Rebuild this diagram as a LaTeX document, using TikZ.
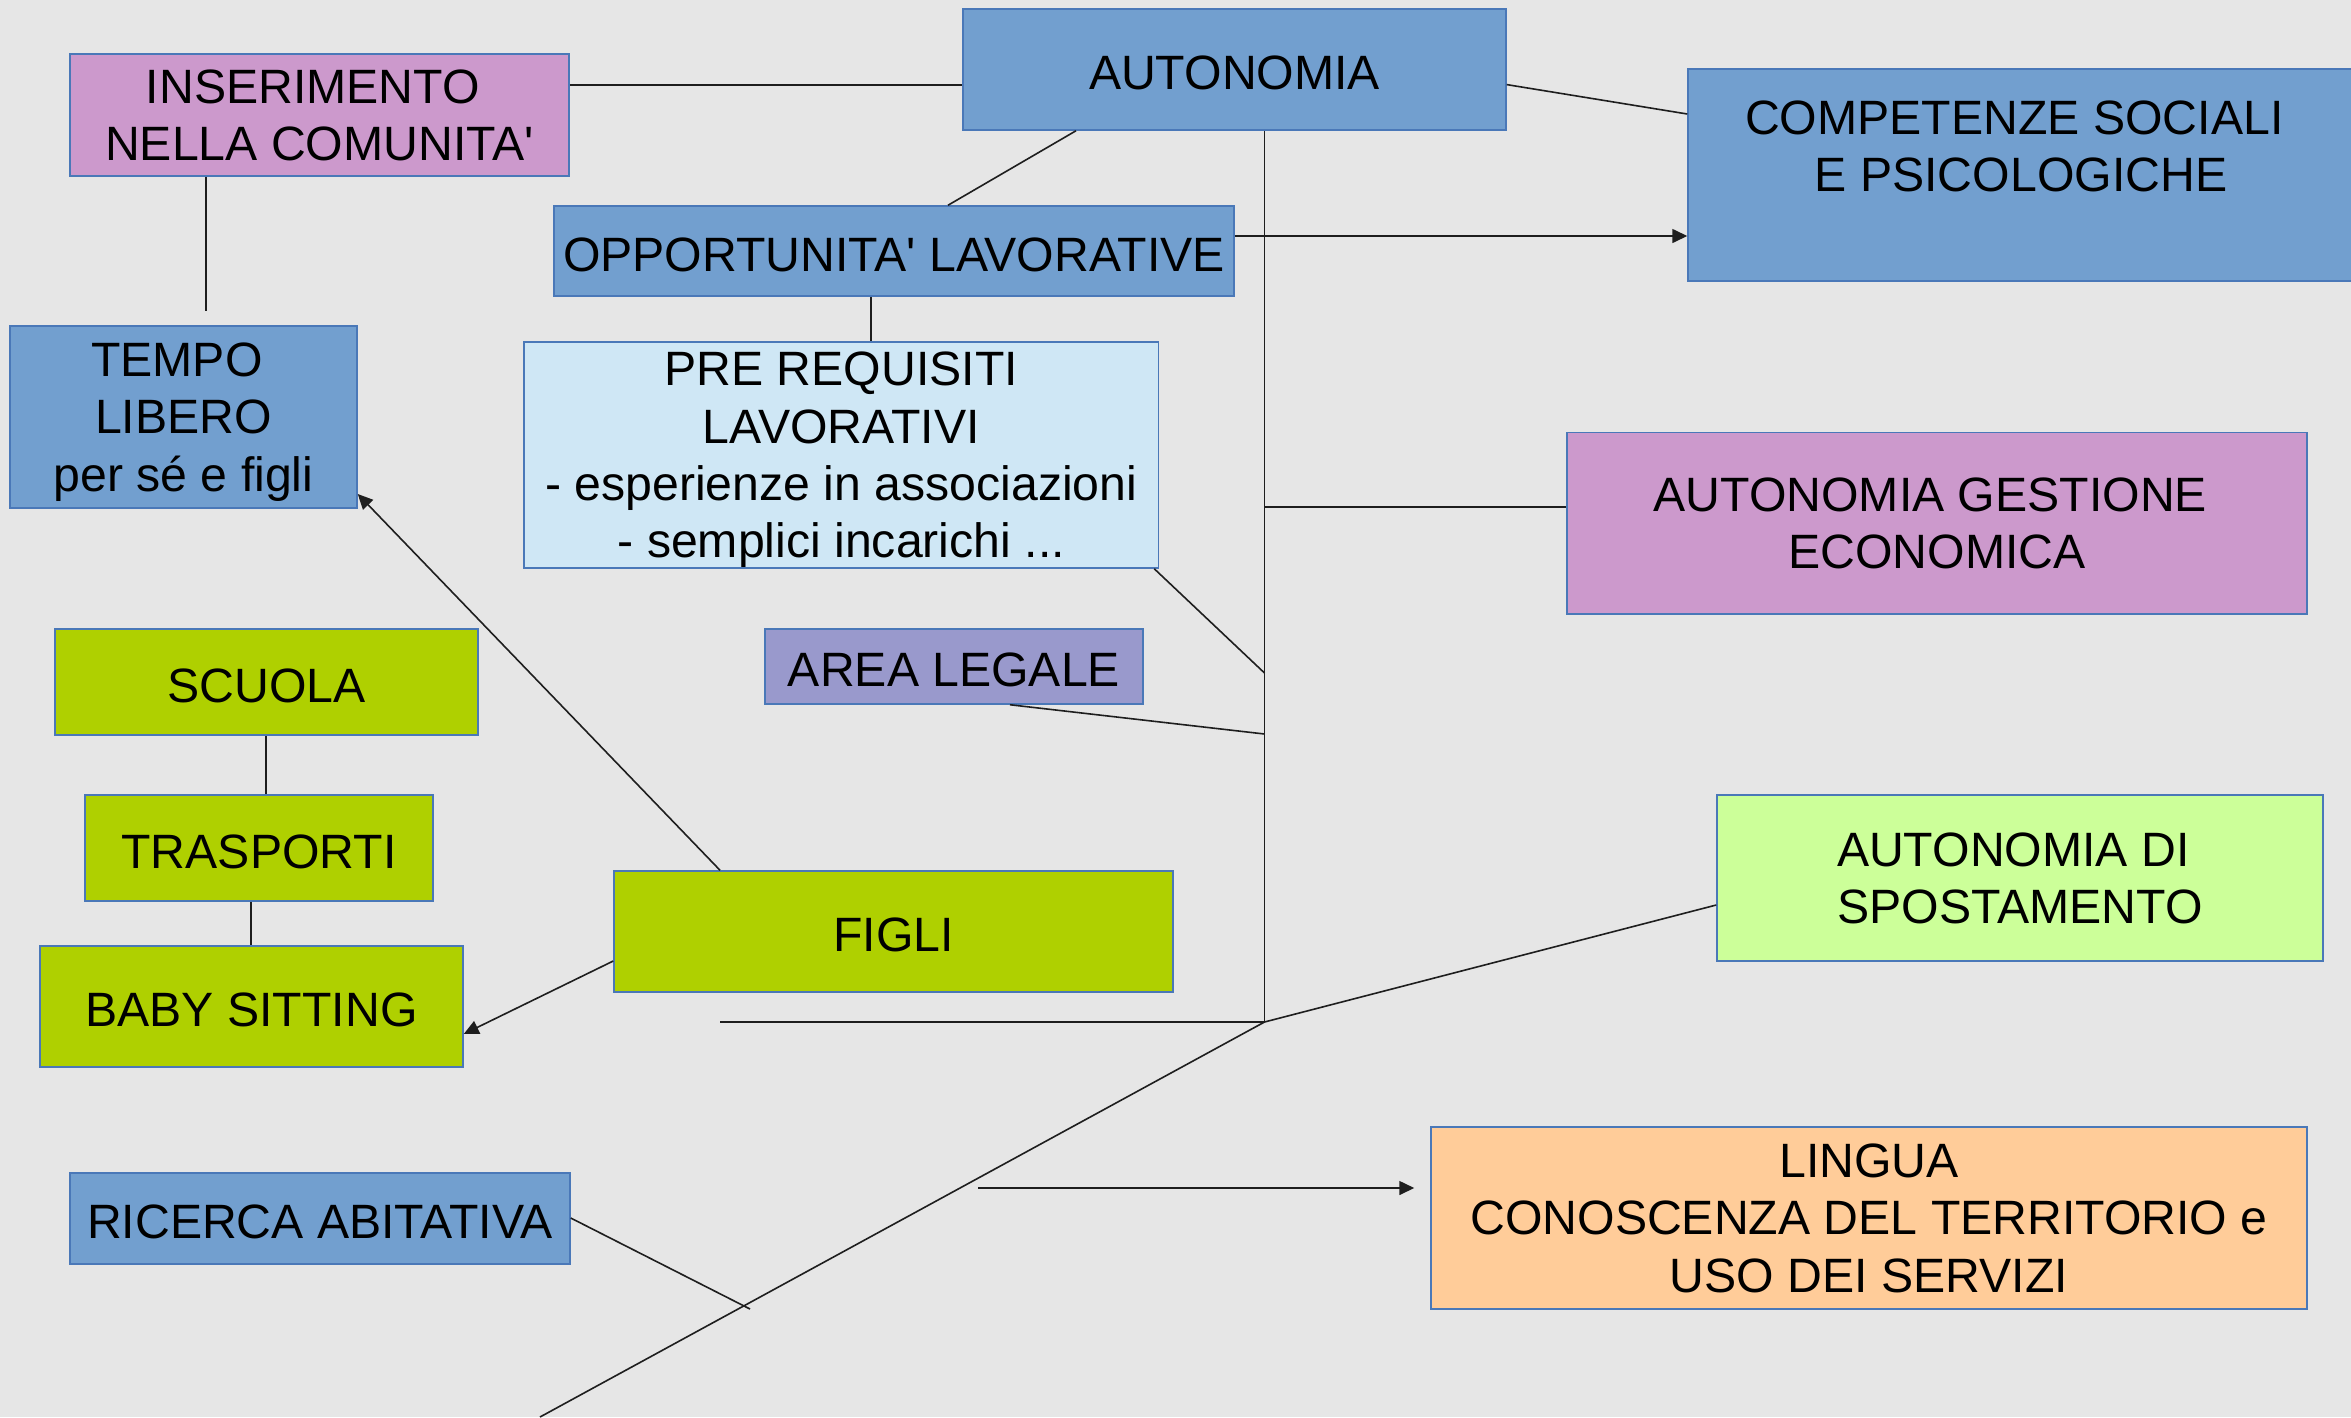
\documentclass[tikz,border=0pt]{standalone}
\usepackage{fontspec}
\setmainfont{Liberation Sans}[Ligatures=TeXOff]
\usetikzlibrary{arrows.meta}
\definecolor{bgc}{HTML}{E6E6E6}
\definecolor{bluef}{HTML}{729FCF}
\definecolor{pinkf}{HTML}{CC99CC}
\definecolor{lbluef}{HTML}{CFE7F5}
\definecolor{greenf}{HTML}{AFD000}
\definecolor{lilacf}{HTML}{9999CC}
\definecolor{lgreenf}{HTML}{CCFF99}
\definecolor{orangef}{HTML}{FFCC99}
\definecolor{borderc}{HTML}{4A78B8}
\definecolor{linec}{HTML}{1E1E1E}
\newcommand{\tsp}{\hspace*{13.4pt}}
\begin{document}
\begin{tikzpicture}[x=1pt,y=-1pt,
  box/.style={draw=borderc, line width=1.5pt, inner sep=0pt, align=center,
    text depth=0pt, font=\fontsize{48.2pt}{57.4pt}\selectfont,
    execute at begin node={\rule{0pt}{40pt}}},
  ln/.style={draw=linec, line width=1.6pt},
  arr/.style={ln, -{Triangle[length=15pt,width=14pt]}}]
\useasboundingbox (0,0) rectangle (2351,1417);
\fill[bgc] (0,0) rectangle (2351,1417);

% nodes
\node[box, fill=bluef, minimum width=543pt, minimum height=121pt] (aut) at (1234.5,69.5) {AUTONOMIA};
\node[box, fill=bluef, minimum width=666pt, minimum height=212pt] (comp) at (2021,175) {COMPETENZE SOCIALI\tsp\\E PSICOLOGICHE\\\mbox{}};
\node[box, fill=pinkf, minimum width=499pt, minimum height=122pt] (ins) at (319.5,115) {INSERIMENTO\tsp\\NELLA COMUNITA'};
\node[box, fill=bluef, minimum width=680pt, minimum height=90pt] (opp) at (894,251) {OPPORTUNITA' LAVORATIVE};
\node[box, fill=lbluef, minimum width=634.5pt, minimum height=226pt] (pre) at (841.25,455) {PRE REQUISITI\\LAVORATIVI\\- esperienze in associazioni\\- semplici incarichi ...};
\node[box, fill=bluef, minimum width=347pt, minimum height=182pt] (tempo) at (183.5,417) {TEMPO\tsp\\LIBERO\\per sé e figli};
\node[box, fill=pinkf, minimum width=740pt, minimum height=181.5pt] (gest) at (1937,523) {AUTONOMIA GESTIONE\tsp\\ECONOMICA};
\node[box, fill=lilacf, minimum width=378pt, minimum height=75pt] (legale) at (954,666.5) {AREA LEGALE};
\node[box, fill=greenf, minimum width=423pt, minimum height=106pt] (scuola) at (266.5,682) {SCUOLA};
\node[box, fill=greenf, minimum width=348pt, minimum height=106pt] (trasp) at (259,848) {TRASPORTI};
\node[box, fill=greenf, minimum width=423pt, minimum height=121pt] (baby) at (251.5,1006.5) {BABY SITTING};
\node[box, fill=greenf, minimum width=559pt, minimum height=121pt] (figli) at (893.5,931.5) {FIGLI};
\node[box, fill=bluef, minimum width=500pt, minimum height=91pt] (ricerca) at (320,1218.5) {RICERCA ABITATIVA};
\node[box, fill=lgreenf, minimum width=606pt, minimum height=166pt] (spost) at (2020,878) {AUTONOMIA DI\tsp\\SPOSTAMENTO};
\node[box, fill=orangef, minimum width=876pt, minimum height=182pt] (lingua) at (1869,1218) {LINGUA\\CONOSCENZA DEL TERRITORIO e\tsp\\USO DEI SERVIZI};

% free coordinates
\coordinate (hub) at (1264.5,1022);
\coordinate (insend) at (206,311);
\coordinate (hl) at (720,1022);
\coordinate (tail) at (540,1417);
\coordinate (ricend) at (750,1309);
\coordinate (lstart) at (978,1188);

% connectors
\draw[ln] (ins.east |- 0,85) -- (aut.west |- 0,85);
\draw[ln] (ins.south -| insend) -- (insend);
\draw[ln] (aut.south -| 1076,0) -- (opp.north -| 948,0);
\draw[ln] (aut.east |- 0,84.6) -- (comp.west |- 0,114);
\draw[ln] (aut.south -| hub) -- (hub);
\draw[arr] (opp.east |- 0,236) -- (comp.west |- 0,236);
\draw[ln] (opp.south -| 871,0) -- (pre.north -| 871,0);
\draw[ln] ([xshift=-5pt]pre.south east) -- (hub |- 0,673);
\draw[ln] (hub |- 0,507) -- (gest.west |- 0,507);
\draw[ln] (legale.south -| 1010,0) -- (hub |- 0,734);
\draw[arr] (figli.north -| 720,0) -- (tempo.east |- 0,494);
\draw[arr] (figli.west |- 0,961) -- (baby.east |- 0,1034);
\draw[ln] (scuola.south -| 266,0) -- (trasp.north -| 266,0);
\draw[ln] (trasp.south -| 251,0) -- (baby.north -| 251,0);
\draw[ln] (hl) -- (hub);
\draw[ln] (hub) -- (spost.west |- 0,905);
\draw[ln] (hub) -- (tail);
\draw[ln] (ricerca.east |- 0,1218) -- (ricend);
\draw[arr, shorten >=16pt] (lstart) -- (lingua.west |- 0,1188);
\end{tikzpicture}
\end{document}
